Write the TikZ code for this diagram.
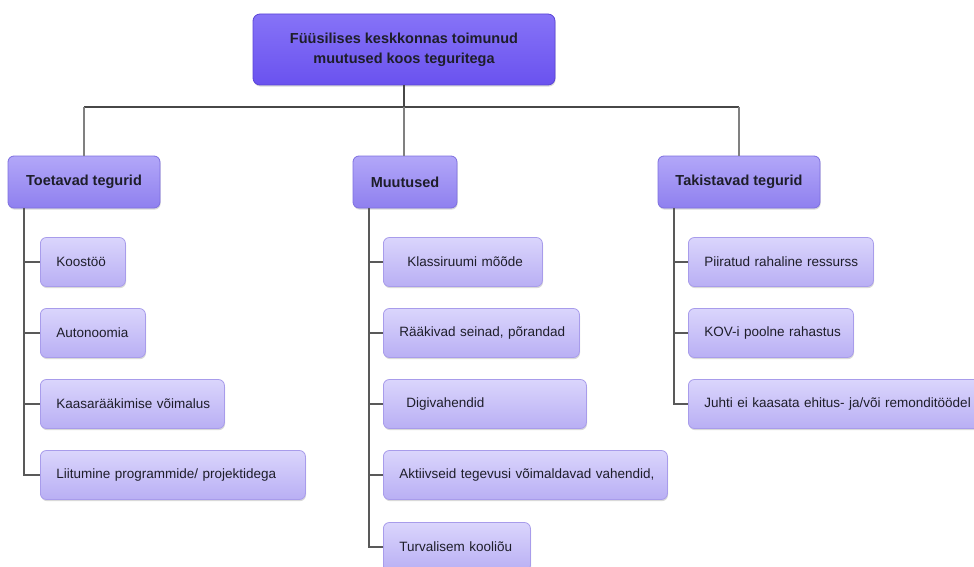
\documentclass[tikz,border=0pt]{standalone}
\usepackage{fontspec}
\setmainfont{Liberation Sans}
\usetikzlibrary{shadows}
\definecolor{roottop}{HTML}{8673F7}
\definecolor{rootbot}{HTML}{6A52EF}
\definecolor{rootline}{HTML}{5B45D6}
\definecolor{grouptop}{HTML}{B2A7F8}
\definecolor{groupbot}{HTML}{8F80EF}
\definecolor{groupline}{HTML}{7E6FE0}
\definecolor{leaftop}{HTML}{DAD5FC}
\definecolor{leafbot}{HTML}{B9AFF4}
\definecolor{leafline}{HTML}{A89CEB}
\definecolor{txt}{HTML}{1E1E2A}
\begin{document}
\begin{tikzpicture}[x=1pt,y=-1pt,
  boxshadow/.style={drop shadow={shadow xshift=0.6pt,shadow yshift=-1.6pt,opacity=0.25,fill=black!60}},
  rootbox/.style={draw=rootline,line width=0.8pt,rounded corners=7pt,top color=roottop,bottom color=rootbot,boxshadow,minimum width=302pt,minimum height=71pt,align=center,text=txt,font=\bfseries\fontsize{14.5}{20}\selectfont},
  groupbox/.style={draw=groupline,line width=0.8pt,rounded corners=6pt,top color=grouptop,bottom color=groupbot,boxshadow,minimum height=52pt,text=txt,font=\bfseries\fontsize{14.5}{18}\selectfont},
  leafbox/.style={draw=leafline,line width=0.8pt,rounded corners=6pt,top color=leaftop,bottom color=leafbot,boxshadow,anchor=west,minimum height=49pt,inner xsep=16pt,align=left,text=txt,font=\fontsize{13.5}{16}\selectfont,
    execute at begin node={\hbox\bgroup},execute at end node={\egroup}},
  mainline/.style={draw=black!72,line width=2.4pt},
  dropline/.style={draw=black!50,line width=1.2pt},
  trunkline/.style={draw=black!65,line width=1.8pt}]
\useasboundingbox (0,0) rectangle (974,567);

\node[rootbox] (root) at (404,49.5) {Füüsilises keskkonnas toimunud\\muutused koos teguritega};

\node[groupbox,minimum width=152pt] (toe) at (84,182) {Toetavad tegurid};
\node[groupbox,minimum width=104pt] (muu) at (405,182) {Muutused};
\node[groupbox,minimum width=162pt] (tak) at (739,182) {Takistavad tegurid};

\node[leafbox,text width=53pt] (toe1) at (40,262) {Koostöö};
\node[leafbox,text width=73pt] (toe2) at (40,333) {Autonoomia};
\node[leafbox,text width=152pt] (toe3) at (40,404) {Kaasarääkimise võimalus};
\node[leafbox,text width=233pt] (toe4) at (40,475) {Liitumine programmide/ projektidega};

\node[leafbox,text width=127pt] (muu1) at (383,262) {\hspace*{8pt}Klassiruumi mõõde};
\node[leafbox,text width=164pt] (muu2) at (383,333) {Rääkivad seinad, põrandad};
\node[leafbox,text width=171pt] (muu3) at (383,404) {\hspace*{7pt}Digivahendid};
\node[leafbox,text width=252pt] (muu4) at (383,475) {Aktiivseid tegevusi võimaldavad vahendid,};
\node[leafbox,text width=115pt] (muu5) at (383,547) {Turvalisem kooliõu};

\node[leafbox,text width=153pt] (tak1) at (688,262) {Piiratud rahaline ressurss};
\node[leafbox,text width=133pt] (tak2) at (688,333) {KOV-i poolne rahastus};
\node[leafbox,text width=270pt] (tak3) at (688,404) {Juhti ei kaasata ehitus- ja/või remonditöödel};

\coordinate (hub) at (404,107);
\path[draw,mainline] (root.south) -- (hub);
\path[draw,mainline] (toe.north |- hub) -- (tak.north |- hub);
\path[draw,dropline] (toe.north |- hub) -- (toe.north);
\path[draw,dropline] (hub) -- (hub |- muu.north);
\path[draw,dropline] (tak.north |- hub) -- (tak.north);

\coordinate (toeT) at ([xshift=16pt]toe.south west);
\coordinate (muuT) at ([xshift=16pt]muu.south west);
\coordinate (takT) at ([xshift=16pt]tak.south west);

\path[draw,trunkline] (toeT) |- (toe4.west);
\path[draw,trunkline] (toeT |- toe1.west) -- (toe1.west);
\path[draw,trunkline] (toeT |- toe2.west) -- (toe2.west);
\path[draw,trunkline] (toeT |- toe3.west) -- (toe3.west);

\path[draw,trunkline] (muuT) |- (muu5.west);
\path[draw,trunkline] (muuT |- muu1.west) -- (muu1.west);
\path[draw,trunkline] (muuT |- muu2.west) -- (muu2.west);
\path[draw,trunkline] (muuT |- muu3.west) -- (muu3.west);
\path[draw,trunkline] (muuT |- muu4.west) -- (muu4.west);

\path[draw,trunkline] (takT) |- (tak3.west);
\path[draw,trunkline] (takT |- tak1.west) -- (tak1.west);
\path[draw,trunkline] (takT |- tak2.west) -- (tak2.west);
\end{tikzpicture}
\end{document}
